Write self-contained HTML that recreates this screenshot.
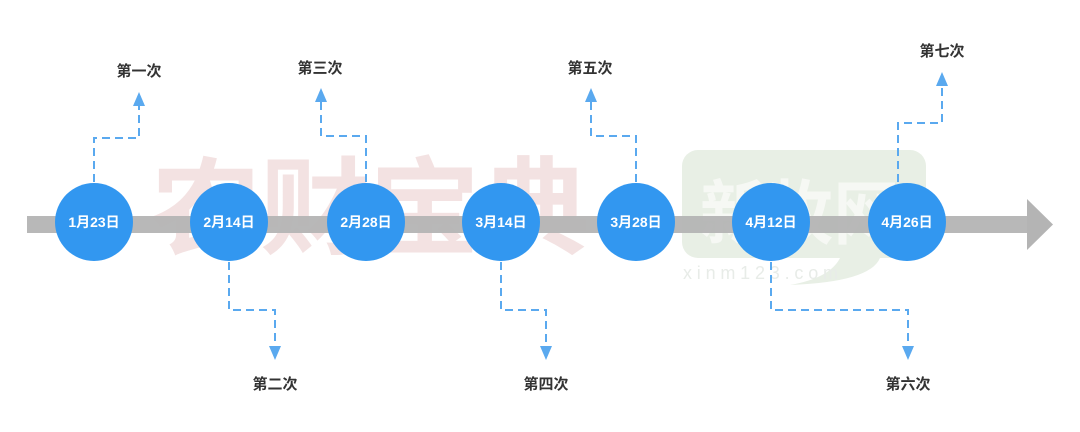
<!DOCTYPE html>
<html><head><meta charset="utf-8"><style>
html,body{margin:0;padding:0;background:#fff;}
svg{display:block;}
</style></head><body>
<svg width="1080" height="432" viewBox="0 0 1080 432" xmlns="http://www.w3.org/2000/svg" font-family="Liberation Sans, Noto Sans CJK SC, sans-serif">
<!-- watermarks -->
<text x="150" y="246" font-size="106" font-weight="bold" fill="#efd6d6" opacity="0.7" textLength="440" lengthAdjust="spacingAndGlyphs" font-family="Noto Sans CJK SC, sans-serif">农财宝典</text>
<rect x="682" y="150" width="244" height="108" rx="16" fill="#e8efe5"/>
<path d="M840 258 Q830 278 790 285 Q870 282 880 258Z" fill="#e8efe5"/>
<text x="700" y="238" font-size="70" font-weight="bold" fill="#f6f8f4" textLength="200" lengthAdjust="spacingAndGlyphs" font-family="Noto Sans CJK SC, sans-serif">新牧网</text>
<text x="683" y="279" font-size="18" fill="#e8ece8" textLength="155" lengthAdjust="spacing">xinm123.com</text>
<!-- bar -->
<rect x="27" y="216" width="1002" height="17" fill="#b4b4b4" opacity="0.95"/>
<polygon points="1027,199 1053,224.5 1027,250" fill="#b4b4b4"/>
<!-- connectors -->
<g fill="none" stroke="#5aa9ef" stroke-width="2" stroke-dasharray="8,5">
<polyline points="94,182 94,138 139,138 139,104"/>
<polyline points="229,262 229,310 275,310 275,348"/>
<polyline points="366,182 366,136 321,136 321,100"/>
<polyline points="501,262 501,310 546,310 546,348"/>
<polyline points="636,182 636,136 591,136 591,100"/>
<polyline points="771,262 771,310 908,310 908,348"/>
<polyline points="898,182 898,123 942,123 942,84"/>
</g>
<g fill="#5aa9ef">
<polygon points="139,92 133,106 145,106"/>
<polygon points="275,360 269,346 281,346"/>
<polygon points="321,88 315,102 327,102"/>
<polygon points="546,360 540,346 552,346"/>
<polygon points="591,88 585,102 597,102"/>
<polygon points="908,360 902,346 914,346"/>
<polygon points="942,72 936,86 948,86"/>
</g>
<!-- circles -->
<g fill="#3297f0">
<circle cx="94" cy="222" r="39"/>
<circle cx="229" cy="222" r="39"/>
<circle cx="366" cy="222" r="39"/>
<circle cx="501" cy="222" r="39"/>
<circle cx="636" cy="222" r="39"/>
<circle cx="771" cy="222" r="39"/>
<circle cx="907" cy="222" r="39"/>
</g>
<g fill="#fff" font-size="14" font-weight="bold" text-anchor="middle">
<text x="94" y="227">1月23日</text>
<text x="229" y="227">2月14日</text>
<text x="366" y="227">2月28日</text>
<text x="501" y="227">3月14日</text>
<text x="636" y="227">3月28日</text>
<text x="771" y="227">4月12日</text>
<text x="907" y="227">4月26日</text>
</g>
<g fill="#333" font-size="15" font-weight="bold" text-anchor="middle">
<text x="139" y="76">第一次</text>
<text x="275" y="389">第二次</text>
<text x="320" y="73">第三次</text>
<text x="546" y="389">第四次</text>
<text x="590" y="73">第五次</text>
<text x="908" y="389">第六次</text>
<text x="942" y="56">第七次</text>
</g>
</svg>
</body></html>
